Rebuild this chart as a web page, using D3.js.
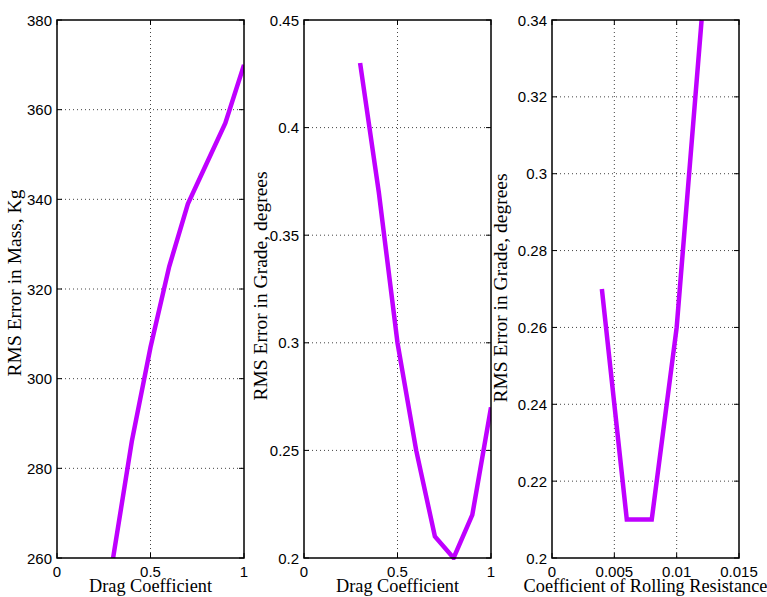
<!DOCTYPE html>
<html>
<head>
<meta charset="utf-8">
<script src="https://cdn.jsdelivr.net/npm/d3@7"></script>
<style>
  html, body { margin: 0; padding: 0; background: #fff; }
  svg { display: block; }
</style>
</head>
<body>
<svg id="chart" width="767" height="597"></svg>
<script>
// Drag coefficient sweep
const dragCoef = [0.3, 0.4, 0.5, 0.6, 0.7, 0.8, 0.9, 1.0];
const massErr = [260, 286, 307, 325, 339, 348, 357, 370];
const gradeErrDrag = [0.43, 0.37, 0.30, 0.25, 0.21, 0.20, 0.22, 0.27];

// Rolling resistance sweep
const rollCoef = [0.004, 0.006, 0.008, 0.010, 0.012];
const gradeErrRoll = [0.27, 0.21, 0.21, 0.26, 0.34];

// Tick labels
const massTicks = [260, 280, 300, 320, 340, 360, 380];
const dragTicks = [0, 0.5, 1];
const gradeDragTicks = [0.2, 0.25, 0.3, 0.35, 0.4, 0.45];
const rollTicks = [0, 0.005, 0.01, 0.015];
const gradeRollTicks = [0.2, 0.22, 0.24, 0.26, 0.28, 0.3, 0.32, 0.34];

const panels = [
  { left: 57, right: 244, x: dragCoef, y: massErr, xDom: [0, 1], yDom: [260, 380],
    xTicks: dragTicks, yTicks: massTicks, xLabel: "Drag Coefficient",
    yLabel: "RMS Error in Mass, Kg", yLabelX: 21, yLabelY: 283 },
  { left: 304, right: 491, x: dragCoef, y: gradeErrDrag, xDom: [0, 1], yDom: [0.2, 0.45],
    xTicks: dragTicks, yTicks: gradeDragTicks, xLabel: "Drag Coefficient",
    yLabel: "RMS Error in Grade, degrees", yLabelX: 267, yLabelY: 286 },
  { left: 552, right: 739, x: rollCoef, y: gradeErrRoll, xDom: [0, 0.015], yDom: [0.2, 0.34],
    xTicks: rollTicks, yTicks: gradeRollTicks, xLabel: "Coefficient of Rolling Resistance",
    yLabel: "RMS Error in Grade, degrees", yLabelX: 507, yLabelY: 288 }
];

const plotTop = 20, plotBottom = 558;
const svg = d3.select("#chart");
const fmt = d => String(+d.toFixed(4));
const sans = "Liberation Sans, Arial, Helvetica, sans-serif";
const serif = "Liberation Serif, Times New Roman, serif";

panels.forEach((p, i) => {
  const xs = d3.scaleLinear().domain(p.xDom).range([p.left, p.right]);
  const ys = d3.scaleLinear().domain(p.yDom).range([plotBottom, plotTop]);
  const g = svg.append("g");

  // dotted grid
  g.selectAll(".vg").data(p.xTicks.slice(1, -1)).join("line")
    .attr("x1", d => xs(d)).attr("x2", d => xs(d)).attr("y1", plotTop).attr("y2", plotBottom)
    .attr("stroke", "#444").attr("stroke-width", 1).attr("stroke-dasharray", "1,3");
  g.selectAll(".hg").data(p.yTicks.slice(1, -1)).join("line")
    .attr("x1", p.left).attr("x2", p.right).attr("y1", d => ys(d)).attr("y2", d => ys(d))
    .attr("stroke", "#444").attr("stroke-width", 1).attr("stroke-dasharray", "1,3");

  // inward ticks on all four sides
  const tl = 5;
  p.xTicks.forEach(t => {
    g.append("line").attr("x1", xs(t)).attr("x2", xs(t)).attr("y1", plotBottom).attr("y2", plotBottom - tl)
      .attr("stroke", "#000");
    g.append("line").attr("x1", xs(t)).attr("x2", xs(t)).attr("y1", plotTop).attr("y2", plotTop + tl)
      .attr("stroke", "#000");
  });
  p.yTicks.forEach(t => {
    g.append("line").attr("x1", p.left).attr("x2", p.left + tl).attr("y1", ys(t)).attr("y2", ys(t))
      .attr("stroke", "#000");
    g.append("line").attr("x1", p.right).attr("x2", p.right - tl).attr("y1", ys(t)).attr("y2", ys(t))
      .attr("stroke", "#000");
  });

  // data line
  const clipId = "clip" + i;
  svg.append("clipPath").attr("id", clipId).append("rect")
    .attr("x", p.left).attr("y", plotTop - 2).attr("width", p.right - p.left).attr("height", plotBottom - plotTop + 4);
  const line = d3.line().x((d, k) => xs(p.x[k])).y(d => ys(d));
  g.append("path").datum(p.y).attr("d", line)
    .attr("fill", "none").attr("stroke", "#BF00FF").attr("stroke-width", 4.5)
    .attr("stroke-linejoin", "miter").attr("clip-path", `url(#${clipId})`);

  // frame
  g.append("rect").attr("x", p.left).attr("y", plotTop).attr("width", p.right - p.left)
    .attr("height", plotBottom - plotTop).attr("fill", "none").attr("stroke", "#000").attr("stroke-width", 1.5);

  // tick labels
  g.selectAll(".xl").data(p.xTicks).join("text")
    .attr("x", d => xs(d)).attr("y", 577).attr("text-anchor", "middle")
    .attr("font-family", sans).attr("font-size", 15)
    .text(fmt);
  g.selectAll(".yl").data(p.yTicks).join("text")
    .attr("x", p.left - 5).attr("y", d => ys(d) + 5.5).attr("text-anchor", "end")
    .attr("font-family", sans).attr("font-size", 15)
    .text(fmt);

  // axis titles
  g.append("text").attr("x", (p.left + p.right) / 2).attr("y", 592).attr("text-anchor", "middle")
    .attr("font-family", serif).attr("font-size", 18.3)
    .text(p.xLabel);
  g.append("text").attr("transform", `translate(${p.yLabelX},${p.yLabelY}) rotate(-90)`)
    .attr("text-anchor", "middle")
    .attr("font-family", serif).attr("font-size", 19.5)
    .text(p.yLabel);
});
</script>
</body>
</html>
